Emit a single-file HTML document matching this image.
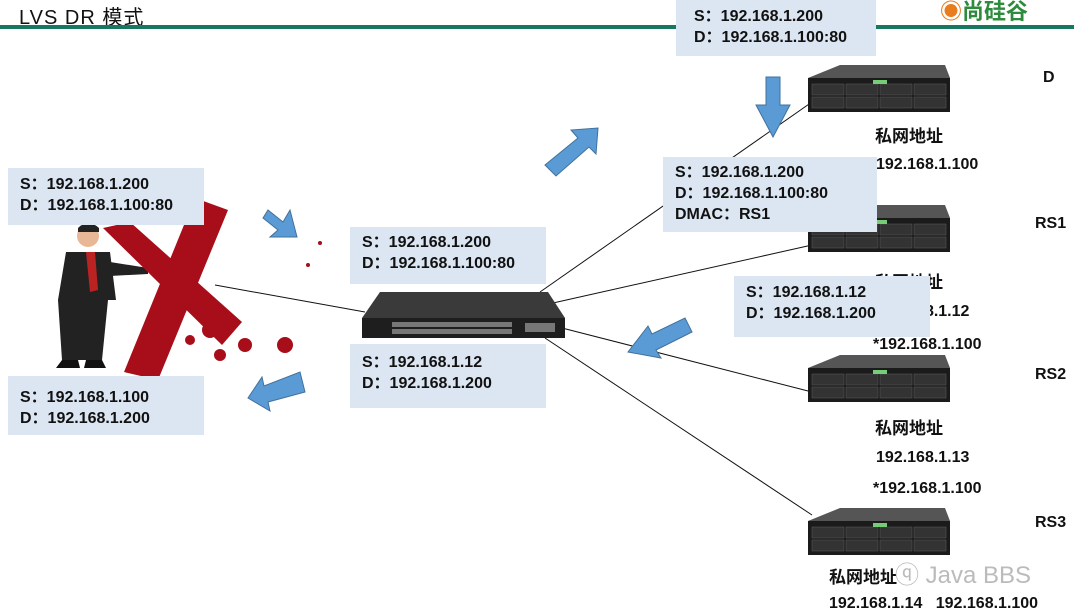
<!DOCTYPE html>
<html><head><meta charset="utf-8"><style>
body{margin:0;width:1074px;height:613px;overflow:hidden;background:#fff;position:relative;font-family:"Liberation Sans","Noto Sans CJK SC",sans-serif}
.b{position:absolute;background:#dce6f2;font-weight:bold;font-size:16px;line-height:21px;color:#111;box-sizing:border-box;white-space:nowrap}
.t{position:absolute;font-weight:bold;font-size:16px;color:#111;white-space:nowrap}
</style></head><body>
<div style="position:absolute;left:19px;top:1px;font-size:20px;font-family:'Liberation Sans','Noto Sans CJK SC',sans-serif;color:#111;letter-spacing:1px">LVS DR 模式</div>
<div style="position:absolute;left:0;top:25px;width:1074px;height:4px;background:#17775f"></div>
<div style="position:absolute;left:940px;top:-6px;font-size:22px;font-weight:bold;color:#2e8b3e;font-family:'Noto Sans CJK SC',sans-serif"><span style="color:#e87d1e">◉</span>尚硅谷</div>
<svg width="1074" height="613" style="position:absolute;left:0;top:0">
<g stroke="#111" stroke-width="1">
<line x1="215" y1="285" x2="365" y2="312"/>
<line x1="540" y1="292" x2="812" y2="102"/>
<line x1="553" y1="303" x2="812" y2="245"/>
<line x1="562" y1="328" x2="812" y2="392"/>
<line x1="545" y1="338" x2="812" y2="515"/>
</g>
<g id="srv">
<polygon points="808,78 840,65 945,65 950,78" fill="#555"/>
<rect x="808" y="78" width="142" height="34" fill="#1b1b1b"/>
<g fill="#333" stroke="#555" stroke-width=".6"><rect x="812" y="84" width="32" height="11"/><rect x="846" y="84" width="32" height="11"/><rect x="880" y="84" width="32" height="11"/><rect x="914" y="84" width="32" height="11"/><rect x="812" y="97" width="32" height="11"/><rect x="846" y="97" width="32" height="11"/><rect x="880" y="97" width="32" height="11"/><rect x="914" y="97" width="32" height="11"/></g>
<rect x="873" y="80" width="14" height="4" fill="#7c7"/>
</g>
<use href="#srv" y="140"/><use href="#srv" y="290"/><use href="#srv" y="443"/>
<polygon points="362,318 380,292 548,292 565,318" fill="#3a3a3a"/>
<rect x="362" y="318" width="203" height="20" fill="#1e1e1e"/>
<g fill="#777"><rect x="392" y="322" width="120" height="5"/><rect x="392" y="329" width="120" height="5"/><rect x="525" y="323" width="30" height="9"/></g>
<circle cx="88" cy="236" r="11" fill="#e8b896"/>
<path d="M78,228 Q88,218 99,228 L99,232 L78,232Z" fill="#222"/>
<path d="M66,252 L110,252 L116,300 L108,300 L102,360 L62,360 L58,300 Z" fill="#222"/>
<path d="M110,262 L148,268 L148,274 L110,276Z" fill="#222"/>
<polygon points="86,252 95,252 98,290 90,292" fill="#b22"/>
<path d="M62,360 L78,360 L80,368 L56,368Z M86,360 L102,360 L106,368 L84,368Z" fill="#111"/>
<g fill="#a80d1a">
<polygon points="103,228 130,222 242,322 222,345"/>
<polygon points="195,198 228,210 158,380 124,372"/>
<circle cx="210" cy="330" r="8"/><circle cx="245" cy="345" r="7"/><circle cx="220" cy="355" r="6"/><circle cx="285" cy="345" r="8"/><circle cx="190" cy="340" r="5"/><circle cx="320" cy="243" r="2"/><circle cx="308" cy="265" r="2"/>
</g>
<g fill="#5b9bd5" stroke="#41719c" stroke-width="1">
<polygon points="766,77 780,77 780,105 790,105 773,137 756,105 766,105"/>
<polygon points="545,165 578,138 571,130 598,128 596,154 589,147 556,176"/>
<polygon points="268,210 283,222 290,210 297,237 270,237 278,230 263,218"/>
<polygon points="685,318 692,332 656,350 661,358 628,352 648,326 652,334"/>
<polygon points="300,372 305,392 268,402 270,411 248,398 262,377 264,386"/>
</g>
</svg>
<div class="b" style="left:676px;top:0;width:200px;height:56px;padding:6px 0 0 18px">S：192.168.1.200<br>D：192.168.1.100:80</div>
<div class="b" style="left:8px;top:168px;width:196px;height:57px;padding:6px 0 0 12px">S：192.168.1.200<br>D：192.168.1.100:80</div>
<div class="b" style="left:350px;top:227px;width:196px;height:57px;padding:5px 0 0 12px">S：192.168.1.200<br>D：192.168.1.100:80</div>
<div class="b" style="left:350px;top:344px;width:196px;height:64px;padding:8px 0 0 12px">S：192.168.1.12<br>D：192.168.1.200</div>
<div class="b" style="left:663px;top:157px;width:214px;height:75px;padding:5px 0 0 12px">S：192.168.1.200<br>D：192.168.1.100:80<br>DMAC：RS1</div>
<div class="b" style="left:734px;top:276px;width:196px;height:61px;padding:6px 0 0 12px">S：192.168.1.12<br>D：192.168.1.200</div>
<div class="b" style="left:8px;top:376px;width:196px;height:59px;padding:11px 0 0 12px">S：192.168.1.100<br>D：192.168.1.200</div>
<div class="t" style="left:1043px;top:69px">D</div>
<div class="t" style="left:1035px;top:215px">RS1</div>
<div class="t" style="left:1035px;top:366px">RS2</div>
<div class="t" style="left:1035px;top:514px">RS3</div>
<div class="t" style="left:875px;top:122px;font-size:17px">私网地址</div>
<div class="t" style="left:876px;top:156px">192.168.1.100</div>
<div class="t" style="left:875px;top:268px;font-size:17px;z-index:-1">私网地址</div>
<div class="t" style="left:876px;top:303px;z-index:-1">192.168.1.12</div>
<div class="t" style="left:873px;top:336px">*192.168.1.100</div>
<div class="t" style="left:875px;top:414px;font-size:17px">私网地址</div>
<div class="t" style="left:876px;top:449px">192.168.1.13</div>
<div class="t" style="left:873px;top:480px">*192.168.1.100</div>
<div class="t" style="left:829px;top:563px;font-size:17px">私网地址</div>
<div class="t" style="left:829px;top:595px">192.168.1.14&nbsp;&nbsp; 192.168.1.100</div>
<div style="position:absolute;left:895px;top:555px;font-size:24px;color:#bbb">ⓠ Java BBS</div>
</body></html>
